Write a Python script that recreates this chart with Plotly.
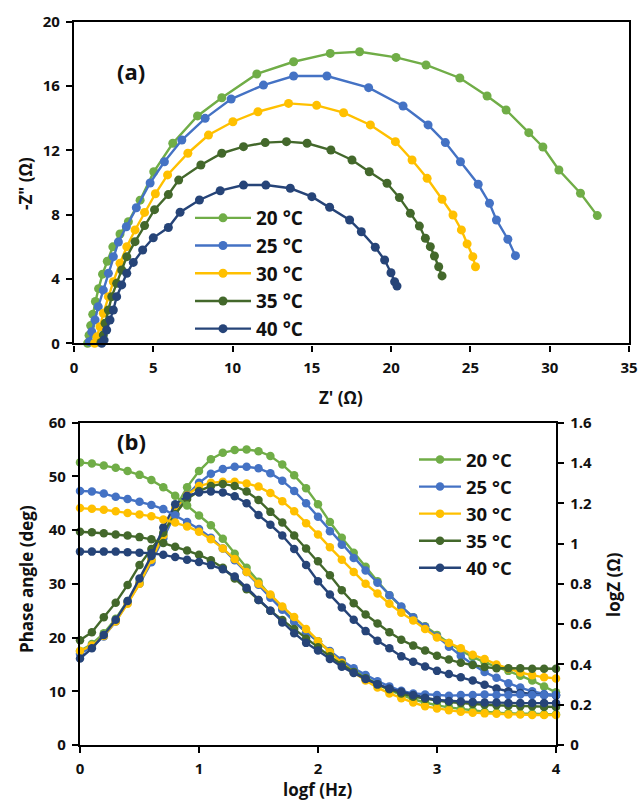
import plotly.graph_objects as go

# ---------------- Panel (a): Nyquist data ----------------
temps = ["20 °C", "25 °C", "30 °C", "35 °C", "40 °C"]
colors = ["#70AD47", "#4472C4", "#FFC000", "#43682B", "#264478"]

zre_20 = [0.86, 0.95, 1.05, 1.18, 1.35, 1.55, 1.8, 2.1, 2.45, 2.9, 3.43, 4.17, 5.03, 6.23, 7.79,
          9.32, 11.53, 13.85, 16.16, 18.01, 20.31, 22.2, 24.33, 26.05, 27.25, 28.68, 29.57, 30.58, 31.94, 33.0]
zim_20 = [0.0, 0.5, 1.1, 1.8, 2.6, 3.4, 4.3, 5.1, 6.0, 6.8, 7.56, 8.9, 10.67, 12.44, 14.14,
          15.27, 16.75, 17.51, 18.03, 18.13, 17.78, 17.31, 16.5, 15.38, 14.51, 13.1, 12.21, 10.78, 9.33, 7.94]

zre_25 = [0.97, 1.12, 1.33, 1.53, 1.85, 2.17, 2.48, 2.8, 3.3, 3.93, 4.8, 5.7, 6.8, 8.27, 9.91,
          11.95, 13.85, 15.95, 18.58, 20.75, 22.33, 23.42, 24.37, 25.49, 26.2, 26.64, 27.36, 27.84]
zim_25 = [0.1, 0.72, 1.45, 2.28, 3.31, 4.35, 5.39, 6.3, 7.25, 8.43, 9.97, 11.29, 12.64, 13.99, 15.19,
          16.06, 16.62, 16.62, 15.9, 14.76, 13.58, 12.48, 11.29, 9.89, 8.71, 7.67, 6.47, 5.45]

zre_30 = [1.3, 1.45, 1.64, 1.85, 2.17, 2.48, 2.9, 3.33, 3.85, 4.45, 5.13, 5.9, 7.18, 8.48, 10.02,
          11.6, 13.53, 15.3, 17.0, 18.69, 20.27, 21.32, 22.27, 23.21, 23.9, 24.43, 24.79, 25.15, 25.32]
zim_30 = [0.0, 0.4, 1.03, 1.87, 2.9, 3.83, 4.98, 6.01, 7.05, 8.14, 9.3, 10.47, 11.82, 12.95, 13.78,
          14.4, 14.92, 14.8, 14.34, 13.58, 12.54, 11.4, 10.26, 8.96, 7.98, 7.05, 6.18, 5.39, 4.76]

zre_35 = [1.7, 1.85, 1.96, 2.17, 2.38, 2.69, 3.01, 3.33, 3.85, 4.45, 5.08, 5.95, 6.6, 8.0, 9.32,
          10.69, 12.06, 13.4, 14.7, 16.2, 17.53, 18.62, 19.74, 20.52, 21.21, 21.78, 22.16, 22.47, 22.73, 23.0, 23.21]
zim_35 = [0.05, 0.52, 1.24, 2.07, 2.9, 3.73, 4.56, 5.39, 6.32, 7.32, 8.31, 9.25, 10.15, 11.09, 11.82,
          12.23, 12.48, 12.54, 12.44, 12.02, 11.4, 10.67, 9.95, 9.06, 8.08, 7.29, 6.53, 6.01, 5.43, 4.76, 4.19]

zre_40 = [1.75, 1.9, 2.06, 2.27, 2.48, 2.69, 3.01, 3.33, 3.74, 4.33, 5.0, 5.95, 6.69, 7.91, 9.22,
          10.69, 12.1, 13.64, 15.0, 16.12, 17.38, 18.12, 19.0, 19.59, 19.99, 20.22, 20.37]
zim_40 = [0.0, 0.2, 0.83, 1.45, 2.07, 2.9, 3.63, 4.35, 5.03, 5.8, 6.56, 7.2, 8.15, 8.91, 9.49,
          9.84, 9.84, 9.64, 9.12, 8.46, 7.67, 6.94, 5.97, 5.18, 4.39, 3.83, 3.56]

# ---------------- Panel (b): Bode data ----------------
logf = [0.0, 0.1, 0.2, 0.3, 0.4, 0.5, 0.6, 0.7, 0.8, 0.9, 1.0,
        1.1, 1.2, 1.3, 1.4, 1.5, 1.6, 1.7, 1.8, 1.9, 2.0,
        2.1, 2.2, 2.3, 2.4, 2.5, 2.6, 2.7, 2.8, 2.9, 3.0,
        3.1, 3.2, 3.3, 3.4, 3.5, 3.6, 3.7, 3.8, 3.9, 4.0]

phase_20 = [17.5, 18.8, 20.8, 23.5, 26.8, 30.3, 34.5, 39.0, 44.0, 48.0, 51.0,
            53.2, 54.4, 54.9, 55.0, 54.7, 53.8, 52.2, 50.2, 47.8, 44.8,
            41.5, 38.6, 35.8, 33.2, 30.5, 27.9, 25.7, 23.8, 22.1, 20.5,
            19.0, 17.6, 16.4, 15.4, 14.6, 13.8, 12.9, 12.0, 10.9, 9.8]
phase_25 = [17.0, 18.3, 20.2, 23.0, 26.5, 30.0, 34.0, 38.5, 43.0, 46.5, 48.8,
            50.5, 51.4, 51.8, 51.8, 51.5, 50.6, 49.2, 47.3, 45.0, 42.5,
            39.8, 37.3, 34.8, 32.5, 30.2, 27.9, 25.8, 23.8, 22.0, 20.2,
            18.3, 16.6, 15.0, 13.6, 12.5, 11.5, 10.7, 10.0, 9.5, 9.3]
phase_30 = [17.5, 18.5, 20.3, 23.0, 26.3, 30.0, 34.5, 39.0, 44.0, 46.5, 48.2,
            48.8, 49.0, 49.0, 48.7, 48.1, 46.9, 45.4, 43.5, 41.3, 39.2,
            36.8, 34.5, 32.2, 30.0, 28.2, 26.3, 24.6, 23.2, 21.6, 20.0,
            19.0, 18.0, 16.8, 16.0, 15.0, 14.2, 13.5, 13.0, 12.6, 12.4]
phase_35 = [19.5, 21.0, 23.8, 26.5, 29.8, 33.5, 36.5, 39.5, 43.0, 45.8, 47.3,
            48.2, 48.6, 48.2, 47.2, 45.6, 43.4, 41.4, 39.0, 36.6, 34.2,
            31.6, 28.8, 26.4, 24.3, 22.6, 21.0, 19.6, 18.5, 17.6, 16.6,
            15.9, 15.3, 14.9, 14.5, 14.3, 14.3, 14.3, 14.2, 14.2, 14.2]
phase_40 = [16.1, 18.0, 20.5, 23.3, 26.8, 31.0, 35.2, 40.5, 44.8, 46.4, 47.0,
            47.2, 47.0, 46.3, 45.0, 42.8, 41.0, 39.0, 36.5, 33.5, 30.5,
            28.0, 25.6, 23.3, 21.2, 19.4, 18.0, 16.5, 15.5, 14.6, 13.8,
            13.2, 12.6, 12.0, 11.2, 10.5, 10.0, 9.7, 9.5, 9.3, 9.2]

logz_20 = [1.403, 1.397, 1.387, 1.376, 1.360, 1.341, 1.315, 1.280, 1.237, 1.189, 1.139,
           1.091, 1.024, 0.949, 0.880, 0.811, 0.741, 0.677, 0.613, 0.560, 0.515,
           0.464, 0.416, 0.373, 0.336, 0.301, 0.272, 0.248, 0.227, 0.211, 0.197,
           0.187, 0.179, 0.171, 0.165, 0.160, 0.157, 0.155, 0.155, 0.152, 0.152]
logz_25 = [1.261, 1.259, 1.248, 1.232, 1.221, 1.208, 1.192, 1.171, 1.141, 1.107, 1.072,
           1.029, 0.976, 0.917, 0.859, 0.795, 0.731, 0.672, 0.613, 0.560, 0.515,
           0.467, 0.421, 0.381, 0.347, 0.317, 0.291, 0.269, 0.256, 0.251, 0.248,
           0.245, 0.248, 0.248, 0.251, 0.248, 0.248, 0.251, 0.248, 0.248, 0.248]
logz_30 = [1.176, 1.173, 1.168, 1.160, 1.152, 1.144, 1.136, 1.120, 1.104, 1.085, 1.059,
           1.021, 0.976, 0.923, 0.859, 0.800, 0.747, 0.688, 0.635, 0.576, 0.515,
           0.461, 0.408, 0.360, 0.320, 0.285, 0.256, 0.232, 0.211, 0.192, 0.181,
           0.173, 0.165, 0.160, 0.157, 0.155, 0.152, 0.152, 0.149, 0.149, 0.149]
logz_35 = [1.059, 1.056, 1.051, 1.045, 1.040, 1.032, 1.021, 1.003, 0.984, 0.965, 0.944,
           0.917, 0.880, 0.827, 0.773, 0.720, 0.667, 0.621, 0.576, 0.528, 0.485,
           0.440, 0.400, 0.363, 0.331, 0.301, 0.277, 0.256, 0.240, 0.229, 0.221,
           0.213, 0.208, 0.203, 0.200, 0.197, 0.195, 0.192, 0.192, 0.189, 0.189]
logz_40 = [0.960, 0.960, 0.960, 0.960, 0.957, 0.955, 0.952, 0.944, 0.933, 0.920, 0.909,
           0.893, 0.872, 0.837, 0.781, 0.720, 0.667, 0.608, 0.555, 0.507, 0.469,
           0.427, 0.389, 0.357, 0.328, 0.301, 0.280, 0.264, 0.248, 0.235, 0.224,
           0.219, 0.216, 0.213, 0.211, 0.211, 0.208, 0.208, 0.208, 0.208, 0.208]

nyq_x = [zre_20, zre_25, zre_30, zre_35, zre_40]
nyq_y = [zim_20, zim_25, zim_30, zim_35, zim_40]
phases = [phase_20, phase_25, phase_30, phase_35, phase_40]
logzs = [logz_20, logz_25, logz_30, logz_35, logz_40]

FONT = "Open Sans"
INK = "#111111"
W, H = 639, 805

fig = go.Figure()

for i in range(5):
    fig.add_trace(go.Scatter(
        x=nyq_x[i], y=nyq_y[i], mode="lines+markers", name=temps[i],
        line=dict(color=colors[i], width=2.4),
        marker=dict(color=colors[i], size=9),
        xaxis="x", yaxis="y", legend="legend", cliponaxis=False))

for i in range(5):
    fig.add_trace(go.Scatter(
        x=logf, y=logzs[i], mode="lines+markers", name=temps[i],
        line=dict(color=colors[i], width=2.4),
        marker=dict(color=colors[i], size=8.5),
        xaxis="x2", yaxis="y3", showlegend=False, cliponaxis=False))

for i in range(5):
    fig.add_trace(go.Scatter(
        x=logf, y=phases[i], mode="lines+markers", name=temps[i],
        line=dict(color=colors[i], width=2.4),
        marker=dict(color=colors[i], size=8.5),
        xaxis="x2", yaxis="y2", legend="legend2", cliponaxis=False))

def px_x(p):
    return p / W

def px_y(p):
    return 1 - p / H

tickfont = dict(family=FONT, size=15, color=INK, weight="bold")
axis_common = dict(showline=True, linecolor="#000000", linewidth=2.4, showgrid=False,
                   zeroline=False, ticks="outside", ticklen=6, tickwidth=2,
                   tickcolor="#000000", tickfont=tickfont, automargin=False,
                   ticklabelstandoff=3)

fig.update_layout(
    width=W, height=H,
    margin=dict(l=0, r=0, t=0, b=0),
    paper_bgcolor="white", plot_bgcolor="white",
    xaxis=dict(domain=[px_x(74), px_x(629)], range=[0, 35], dtick=5, anchor="y",
               mirror=True, **axis_common),
    yaxis=dict(domain=[px_y(343.3), px_y(21.7)], range=[0, 20], dtick=4, anchor="x",
               mirror=True, **axis_common),
    xaxis2=dict(domain=[px_x(80), px_x(556)], range=[0, 4], dtick=1, anchor="y2",
                mirror=True, **axis_common),
    yaxis2=dict(domain=[px_y(745), px_y(422.7)], range=[0, 60], dtick=10, anchor="x2",
                **axis_common),
    yaxis3=dict(range=[0, 1.6], dtick=0.2, anchor="x2", overlaying="y2", side="right",
                **axis_common),
    legend=dict(x=px_x(190), y=px_y(199), xanchor="left", yanchor="top",
                bgcolor="rgba(0,0,0,0)", tracegroupgap=0, itemwidth=56,
                font=dict(family=FONT, size=19, color=INK, weight="bold")),
    legend2=dict(x=px_x(414), y=px_y(441), xanchor="left", yanchor="top",
                 bgcolor="rgba(0,0,0,0)", tracegroupgap=0, itemwidth=42,
                 font=dict(family=FONT, size=18.5, color=INK, weight="bold")),
    showlegend=True,
)

title_font = dict(family=FONT, size=17, color=INK, weight="bold")
annos = [
    dict(text="(a)", x=px_x(131), y=px_y(71), font=dict(family=FONT, size=22, color=INK, weight="bold")),
    dict(text="(b)", x=px_x(131), y=px_y(441), font=dict(family=FONT, size=22, color=INK, weight="bold")),
    dict(text="Z' (Ω)", x=px_x(341), y=px_y(397), font=title_font),
    dict(text='-Z" (Ω)', x=px_x(26), y=px_y(184), font=title_font, textangle=-90),
    dict(text="logf (Hz)", x=px_x(317), y=px_y(789), font=title_font),
    dict(text="Phase angle (deg)", x=px_x(26), y=px_y(579), font=title_font, textangle=-90),
    dict(text="logZ (Ω)", x=px_x(613), y=px_y(585), font=title_font, textangle=-90),
]
for a in annos:
    a.update(xref="paper", yref="paper", showarrow=False, xanchor="center", yanchor="middle")
fig.update_layout(annotations=annos)

fig.write_html("out.html",
               config={"displayModeBar": False},
               post_script="document.body.style.margin='0px';document.body.style.overflow='hidden';")
